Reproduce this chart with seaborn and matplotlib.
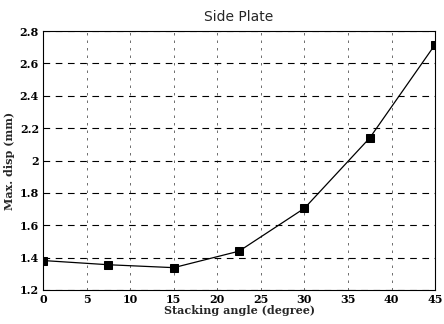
import matplotlib
matplotlib.use("Agg")
import matplotlib.pyplot as plt
import seaborn as sns
import pandas as pd
from matplotlib.ticker import FuncFormatter

angles = [0, 7.5, 15, 22.5, 30, 37.5, 45]
max_disp = [1.382, 1.356, 1.338, 1.44, 1.705, 2.14, 2.717]
x_ticks = [0, 5, 10, 15, 20, 25, 30, 35, 40, 45]
y_ticks = [1.2, 1.4, 1.6, 1.8, 2.0, 2.2, 2.4, 2.6, 2.8]

df = pd.DataFrame({"angle": angles, "disp": max_disp})

sns.set_theme(style="white")
plt.rcParams['font.family'] = ['DejaVu Serif']

fig = plt.figure(figsize=(4.44, 3.24), dpi=100)
ax = fig.add_axes([0.097, 0.105, 0.883, 0.799])

sns.lineplot(data=df, x="angle", y="disp", ax=ax, color="black", linewidth=0.9,
             marker="s", markersize=5.5, markeredgecolor="black", markerfacecolor="black")

ax.set_xlim(0, 45)
ax.set_ylim(1.2, 2.8)
ax.set_xticks(x_ticks)
ax.set_yticks(y_ticks)
ax.yaxis.set_major_formatter(FuncFormatter(lambda v, p: f"{v:g}"))
ax.grid(True, axis="y", linestyle=(0, (6, 5)), color="black", linewidth=0.8)
ax.grid(True, axis="x", linestyle=(0, (3, 6)), color="#555555", linewidth=0.6)
for s in ax.spines.values():
    s.set_color("black")
    s.set_linewidth(0.8)
ax.tick_params(axis="both", direction="in", length=4, labelsize=8, pad=3, colors="black")
for lab in ax.get_xticklabels() + ax.get_yticklabels():
    lab.set_fontweight("bold")

ax.set_xlabel("Stacking angle (degree)", fontsize=8, fontweight="bold", labelpad=0)
ax.set_ylabel("Max. disp (mm)", fontsize=8, fontweight="bold", labelpad=3)
ax.set_title("Side Plate", fontsize=10, family="DejaVu Sans", pad=7)

fig.savefig("out.png", dpi=100)
